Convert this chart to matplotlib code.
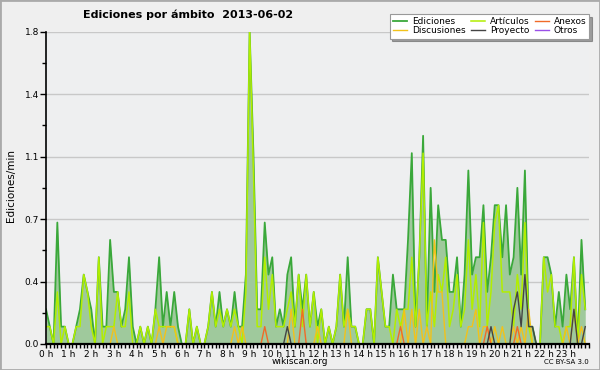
import numpy as np
import matplotlib
matplotlib.use('Agg')
import matplotlib.pyplot as plt
from matplotlib.patches import Rectangle
from matplotlib.ticker import MultipleLocator, FixedLocator, FuncFormatter

# edits per minute, one value every 10 minutes (144 values)
ediciones = [
    0.2, 0.1, 0.0, 0.7, 0.1, 0.1,
    0.0, 0.0, 0.1, 0.2, 0.4, 0.3,
    0.2, 0.0, 0.5, 0.1, 0.1, 0.6,
    0.3, 0.3, 0.1, 0.2, 0.5, 0.1,
    0.0, 0.1, 0.0, 0.1, 0.0, 0.2,
    0.5, 0.1, 0.3, 0.1, 0.3, 0.1,
    0.0, 0.0, 0.2, 0.0, 0.1, 0.0,
    0.0, 0.1, 0.3, 0.1, 0.3, 0.1,
    0.2, 0.1, 0.3, 0.1, 0.1, 0.4,
    1.8, 1.1, 0.2, 0.2, 0.7, 0.4,
    0.5, 0.1, 0.2, 0.1, 0.4, 0.5,
    0.1, 0.4, 0.2, 0.4, 0.1, 0.3,
    0.1, 0.2, 0.0, 0.1, 0.0, 0.1,
    0.4, 0.1, 0.5, 0.1, 0.1, 0.0,
    0.0, 0.2, 0.2, 0.0, 0.5, 0.3,
    0.1, 0.1, 0.4, 0.2, 0.2, 0.2,
    0.6, 1.1, 0.1, 0.5, 1.2, 0.1,
    0.9, 0.3, 0.8, 0.6, 0.6, 0.3,
    0.3, 0.5, 0.1, 0.4, 1.0, 0.4,
    0.5, 0.5, 0.8, 0.3, 0.5, 0.8,
    0.8, 0.5, 0.8, 0.4, 0.5, 0.9,
    0.4, 1.0, 0.1, 0.1, 0.0, 0.0,
    0.5, 0.5, 0.4, 0.1, 0.3, 0.1,
    0.4, 0.2, 0.5, 0.0, 0.6, 0.2,
]
articulos = [
    0.1, 0.1, 0.0, 0.3, 0.0, 0.1,
    0.0, 0.0, 0.1, 0.1, 0.4, 0.3,
    0.1, 0.0, 0.5, 0.0, 0.1, 0.1,
    0.1, 0.3, 0.1, 0.1, 0.3, 0.0,
    0.0, 0.1, 0.0, 0.1, 0.0, 0.2,
    0.1, 0.1, 0.1, 0.1, 0.1, 0.0,
    0.0, 0.0, 0.2, 0.0, 0.1, 0.0,
    0.0, 0.1, 0.3, 0.1, 0.2, 0.1,
    0.2, 0.1, 0.2, 0.1, 0.0, 0.3,
    1.8, 1.0, 0.1, 0.1, 0.5, 0.2,
    0.4, 0.1, 0.1, 0.1, 0.2, 0.3,
    0.1, 0.4, 0.1, 0.4, 0.1, 0.3,
    0.0, 0.2, 0.0, 0.1, 0.0, 0.1,
    0.4, 0.1, 0.2, 0.1, 0.1, 0.0,
    0.0, 0.2, 0.2, 0.0, 0.5, 0.3,
    0.1, 0.1, 0.0, 0.2, 0.1, 0.2,
    0.2, 0.5, 0.1, 0.5, 1.1, 0.1,
    0.3, 0.1, 0.4, 0.3, 0.5, 0.1,
    0.2, 0.4, 0.1, 0.2, 0.6, 0.2,
    0.4, 0.1, 0.7, 0.1, 0.3, 0.7,
    0.8, 0.3, 0.3, 0.3, 0.1, 0.4,
    0.2, 0.7, 0.1, 0.0, 0.0, 0.0,
    0.5, 0.3, 0.4, 0.1, 0.1, 0.0,
    0.1, 0.1, 0.5, 0.0, 0.4, 0.2,
]
# sparse series: {slot index: value}
discusiones_pts = {18: 0.1, 30: 0.1, 32: 0.1, 33: 0.1, 34: 0.1, 50: 0.1, 52: 0.1,
                   65: 0.2, 72: 0.1, 80: 0.2, 95: 0.2, 97: 0.2, 99: 0.2, 101: 0.1,
                   103: 0.6, 104: 0.3, 105: 0.3, 112: 0.1, 113: 0.1, 114: 0.2,
                   116: 0.1, 117: 0.1, 119: 0.1, 121: 0.1, 124: 0.1, 126: 0.1,
                   128: 0.2, 138: 0.1, 140: 0.2, 142: 0.1}
anexos_pts = {58: 0.1, 68: 0.2, 94: 0.1, 117: 0.1, 125: 0.1}
proyecto_pts = {64: 0.1, 118: 0.1, 124: 0.2, 125: 0.3, 126: 0.1, 127: 0.4,
                128: 0.1, 129: 0.1, 140: 0.2, 143: 0.1}
otros_pts = {}

n = len(ediciones)
hours = np.arange(n) / 6.0

def dense(pts):
    v = np.zeros(n)
    for k, val in pts.items():
        v[k] = val
    return v

discusiones = dense(discusiones_pts)
anexos = dense(anexos_pts)
proyecto = dense(proyecto_pts)
otros = dense(otros_pts)

bg = '#efefef'
fig = plt.figure(figsize=(6, 3.7), dpi=100, facecolor=bg)
ax = fig.add_axes([0.0767, 0.0703, 0.905, 0.844], facecolor='#eeeff0')

ax.fill_between(hours, ediciones, 0, color='#9fc99c', lw=0, zorder=1)
l_ed, = ax.plot(hours, ediciones, color='#3aa83a', lw=1.3, label='Ediciones', zorder=2)
l_ar, = ax.plot(hours, articulos, color='#b2ee00', lw=1.1, label='Artículos', zorder=2.1)
l_di, = ax.plot(hours, discusiones, color='#f2c21a', lw=1.0, label='Discusiones', zorder=2.2)
l_an, = ax.plot(hours, anexos, color='#f06a28', lw=1.0, label='Anexos', zorder=2.3)
l_pr, = ax.plot(hours, proyecto, color='#444444', lw=1.0, label='Proyecto', zorder=2.4)
l_ot, = ax.plot(hours, otros, color='#9a50e8', lw=1.0, label='Otros', zorder=2.0)

ax.set_xlim(0, 24)
ax.set_ylim(0, 1.8)

yt = np.linspace(0, 1.8, 6)
ax.yaxis.set_major_locator(FixedLocator(yt))
ax.yaxis.set_minor_locator(FixedLocator(yt[:-1] + 0.18))
ax.yaxis.set_major_formatter(FuncFormatter(lambda v, p: '%.1f' % v))
ax.grid(axis='y', color='#c8c8c8', lw=1.0, zorder=0)
ax.set_axisbelow(True)

ax.xaxis.set_major_locator(MultipleLocator(1))
ax.xaxis.set_minor_locator(MultipleLocator(1 / 6.0))
ax.set_xticks(range(24))
ax.set_xticklabels(['%d h' % h for h in range(24)])

for s in ['top', 'right']:
    ax.spines[s].set_visible(False)
ax.spines['left'].set_linewidth(1.2)
ax.spines['bottom'].set_linewidth(1.6)
ax.tick_params(axis='x', which='both', length=3, width=1, labelsize=6.5, pad=1, colors='black')
ax.tick_params(axis='y', which='major', length=4, width=1, labelsize=6.5, pad=1)
ax.tick_params(axis='y', which='minor', length=3, width=1)

fig.text(0.313, 0.96, 'Ediciones por ámbito  2013-06-02', ha='center', va='center',
         fontsize=8, fontweight='bold')
fig.text(0.018, 0.5, 'Ediciones/min', rotation=90, ha='center', va='center', fontsize=7.5)
fig.text(0.5, 0.022, 'wikiscan.org', ha='center', va='center', fontsize=6.5)
fig.text(0.982, 0.022, 'CC BY-SA 3.0', ha='right', va='center', fontsize=5)

leg = fig.legend([l_ed, l_di, l_ar, l_pr, l_an, l_ot],
                 ['Ediciones', 'Discusiones', 'Artículos', 'Proyecto', 'Anexos', 'Otros'],
                 ncol=3, loc='upper right', bbox_to_anchor=(0.99, 0.975),
                 fontsize=6.5, frameon=True, fancybox=False, shadow=True,
                 handlelength=1.6, handletextpad=0.5, columnspacing=0.6,
                 labelspacing=0.05, borderpad=0.35)
leg.get_frame().set_edgecolor('#999999')
leg.get_frame().set_linewidth(0.8)

fig.patches.append(Rectangle((0, 0), 1, 1, transform=fig.transFigure, fill=False,
                             edgecolor='#aaaaaa', lw=2, zorder=10))

fig.savefig('out.png', dpi=100, facecolor=bg)
